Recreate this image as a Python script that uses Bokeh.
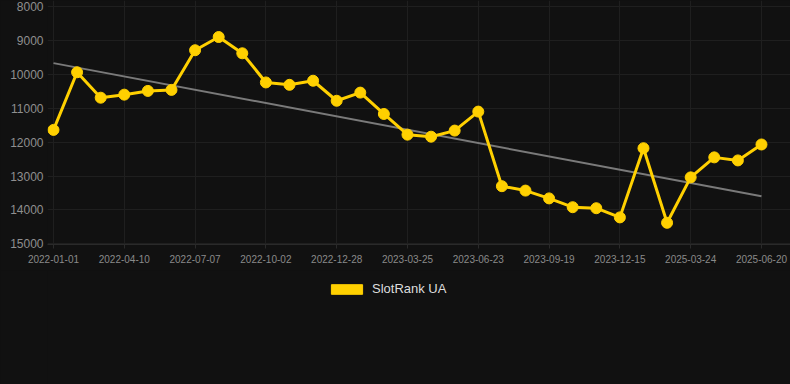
from bokeh.plotting import figure
from bokeh.layouts import column
from bokeh.models import Range1d, FixedTicker, Legend, LegendItem, ColumnDataSource
from bokeh.embed import file_html
from bokeh.resources import INLINE

dates = [
    "2022-01-01", "2022-02-03", "2022-03-08", "2022-04-10", "2022-05-09", "2022-06-07",
    "2022-07-07", "2022-08-05", "2022-09-03", "2022-10-02", "2022-10-31", "2022-11-29",
    "2022-12-28", "2023-01-26", "2023-02-24", "2023-03-25", "2023-04-24", "2023-05-24",
    "2023-06-23", "2023-07-22", "2023-08-20", "2023-09-19", "2023-10-17", "2023-11-15",
    "2023-12-15", "2025-01-23", "2025-02-22", "2025-03-24", "2025-04-23", "2025-05-22",
    "2025-06-20",
]
ranks = [
    11640, 9940, 10690, 10600, 10490, 10460,
    9290, 8900, 9380, 10240, 10310, 10190,
    10780, 10540, 11170, 11780, 11840, 11660,
    11100, 13300, 13430, 13660, 13920, 13950,
    14220, 12180, 14380, 13040, 12450, 12540,
    12070,
]
trend_start = 9670
trend_end = 13600
series_name = "SlotRank UA"
y_ticks = [8000, 9000, 10000, 11000, 12000, 13000, 14000, 15000]

GOLD = "#FFD000"
BG = "#111111"
FONT = "Liberation Sans"

idx = list(range(len(dates)))
src = ColumnDataSource(data=dict(x=idx, y=ranks))
tick_idx = list(range(0, len(dates), 3))

p = figure(width=790, height=270, output_backend="svg", toolbar_location=None,
           x_range=Range1d(-0.254, 31.23), y_range=Range1d(15020, 7823),
           min_border_left=47, min_border_right=0, min_border_top=0,
           min_border_bottom=26)
p.background_fill_color = BG
p.border_fill_color = BG
p.outline_line_color = None

# grid
p.xgrid.ticker = FixedTicker(ticks=tick_idx)
p.ygrid.ticker = FixedTicker(ticks=y_ticks)
p.xgrid.grid_line_color = "#1f1f1f"
p.ygrid.grid_line_color = "#1f1f1f"

# axes
p.xaxis.ticker = FixedTicker(ticks=tick_idx)
p.xaxis.major_label_overrides = {i: dates[i] for i in tick_idx}
p.yaxis.ticker = FixedTicker(ticks=y_ticks)
for ax in (p.xaxis[0], p.yaxis[0]):
    ax.major_label_text_font = FONT
    ax.major_tick_in = 0
    ax.minor_tick_line_color = None
p.xaxis.major_label_text_font_size = "10px"
p.xaxis.major_label_text_color = "#8a8a8a"
p.xaxis.axis_line_color = "#2a2a2a"
p.xaxis.major_tick_line_color = "#2a2a2a"
p.xaxis.major_tick_out = 4
p.xaxis.major_label_standoff = 6
p.yaxis.major_label_text_font_size = "12px"
p.yaxis.major_label_text_color = "#8f8f8f"
p.yaxis.axis_line_color = None
p.yaxis.major_tick_line_color = None
p.yaxis.major_tick_out = 0
p.yaxis.major_label_standoff = 4

# trend line
p.line(x=[idx[0], idx[-1]], y=[trend_start, trend_end], line_color="#7a7a7a", line_width=2)

# series
p.line(x="x", y="y", source=src, line_color=GOLD, line_width=3)
p.scatter(x="x", y="y", source=src, size=11, fill_color=GOLD, line_color=GOLD)

# legend strip below the chart (frame aligned with the chart's frame)
lg = figure(width=790, height=114, output_backend="svg", toolbar_location=None,
            x_axis_type=None, y_axis_type=None,
            min_border_left=47, min_border_right=0, min_border_top=0, min_border_bottom=0)
lg.background_fill_color = BG
lg.border_fill_color = BG
lg.outline_line_color = None
lg.xgrid.visible = False
lg.ygrid.visible = False

# hidden bar renderer only used for the rectangular legend swatch
legend_glyph = lg.vbar(x="x", top="y", width=0.5, source=src, fill_color=GOLD,
                       line_color=GOLD, visible=False)

legend = Legend(items=[LegendItem(label=series_name, renderers=[legend_glyph])],
                location=(280, 88), orientation="horizontal",
                glyph_width=39, glyph_height=12, label_standoff=6,
                label_text_font=FONT, label_text_font_size="13px",
                label_text_color="#dddddd", background_fill_alpha=0,
                border_line_color=None, margin=0, padding=6, spacing=0)
lg.add_layout(legend, "center")

layout = column(p, lg, spacing=0, styles={"background-color": BG})
open("out.html", "w").write(file_html(layout, INLINE))
